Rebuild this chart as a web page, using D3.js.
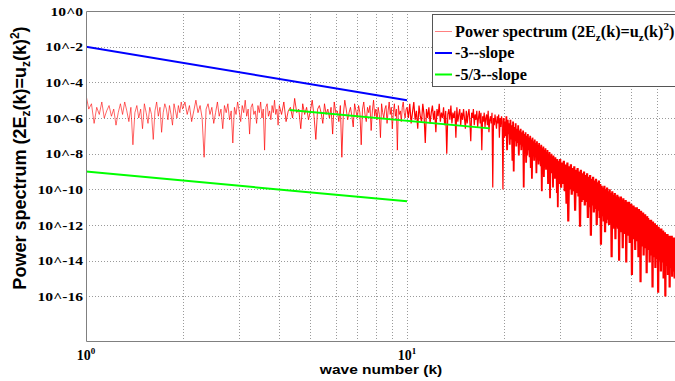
<!DOCTYPE html>
<html>
<head>
<meta charset="utf-8">
<script src="https://cdn.jsdelivr.net/npm/d3@7"></script>
<style>
  body { margin: 0; background: #fff; }
  svg { display: block; }
</style>
</head>
<body>
<div id="chart"></div>
<script>
// spectrum: wave number ranges, values = 10*log10(power)
const specRanges = [[1, 2], [2, 4], [4, 10], [10, 20], [20, 30], [30, 70]];

const specA = [-47,-55,-52,-63,-54,-58,-51,-60,-56,-53,-59,-55,-64,-57,-52,-58,-51,-56,-62,-54,
  -75,-57,-53,-60,-55,-66,-52,-57,-63,-54,-58,-72,-56,-51,-59,-54,-68,-57,-52,-55,
  -61,-53,-58,-64,-52,-56,-60,-53,-57,-51];

const specB = [-55,-51,-58,-53,-62,-56,-50,-57,-53,-60,-82,-55,-52,-58,-54,-63,-57,-51,-59,-55,
  -66,-53,-57,-52,-61,-56,-74,-54,-58,-51,-56,-62,-53,-57,-50,-59,-55,-69,-54,-52,
  -58,-56,-63,-53,-57,-51,-60,-55,-78,-54,-52,-59,-56,-61,-53,-57,-50,-58,-55,-64];

const specC = [-53,-58,-51,-62,-56,-54,-60,-49,-57,-55,-66,-52,-58,-54,-61,-56,-50,-59,-72,-55,
  -53,-57,-63,-52,-58,-55,-60,-54,-69,-51,-57,-56,-62,-53,-82,-58,-50,-55,-61,-57,
  -54,-59,-65,-52,-56,-60,-53,-57,-75,-55,-51,-58,-62,-54,-57,-53,-67,-56,-50,-59,
  -55,-61,-54,-58,-71,-52,-57,-60,-55,-53,-63,-56,-51,-58,-54,-66,-57,-52,-59,-55,
  -78,-53,-58,-56,-62,-54,-51,-57,-60,-55];

const specD = [-54,-60,-52,-63,-57,-51,-61,-56,-66,-53,-59,-62,-52,-58,-74,-55,-60,-54,-63,-57,
  -53,-61,-56,-68,-55,-59,-52,-62,-57,-60,-54,-64,-56,-80,-58,-55,-61,-53,-63,-57,
  -60,-56,-71,-54,-62,-58,-55,-64,-57,-61,-55,-60,-66,-56,-63,-58,-55,-62,-73,-57,
  -60,-55,-64,-58,-61,-56,-65,-60,-56,-63,-57,-78,-59,-62,-57,-65,-60,-58,-64,-56,
  -68,-61,-59,-63,-57,-99,-60,-64,-58,-62,-66,-59,-63,-58,-71,-60,-65,-59,-62,-100];

const specE1 = [-60,-71,-62,-70,-59,-78,-61,-69,-63,-75,-61,-72,-64,-84,-62,-90,-65,-73,-63,-76,
  -66,-74,-64,-81,-67,-75,-66,-78,-68,-76,-67,-99,-69,-79,-68,-85,-70,-81,-69,-78,
  -71,-82,-70,-88,-72,-94,-71,-81,-73,-84,-72,-82,-74,-91,-73,-83,-75,-86,-74,-84,
  -76,-87,-75,-101,-77,-86,-76,-93,-78,-87,-77,-89,-79,-88,-78,-97,-80,-89,-79,-105,
  -81,-91,-80,-90,-82,-99,-81,-91,-83,-94,-82,-92,-84,-102,-83,-110,-85,-96,-84,-97];

const specE2 = [-83,-99,-85,-97,-84,-101,-86,-108,-85,-118,-87,-100,-86,-103,-88,-101,-87,-112,-89,-102,
  -88,-104,-90,-121,-89,-107,-91,-106,-90,-109,-92,-107,-91,-116,-93,-110,-92,-126,-94,-109,
  -93,-113,-95,-111,-94,-120,-96,-112,-95,-116,-97,-131,-98,-115,-99,-118,-98,-124,-100,-119,
  -99,-117,-101,-120,-100,-119,-102,-138,-101,-119,-103,-122,-102,-128,-104,-121,-103,-122,-104,-140,
  -105,-122,-104,-124,-106,-133,-105,-124,-107,-125,-106,-141,-107,-126,-108,-124,-107,-130,-109,-126,
  -108,-148,-110,-128,-109,-127,-110,-134,-111,-129,-110,-128,-112,-138,-111,-130,-113,-152,-112,-129,
  -114,-132,-113,-137,-115,-133,-114,-131,-116,-147,-115,-133,-116,-134,-117,-141,-118,-135,-117,-137,
  -119,-155,-118,-136,-120,-138,-119,-144,-121,-137,-120,-139,-122,-158,-121,-140,-122,-139,-123,-146,
  -122,-141,-124,-140,-123,-150,-125,-142,-124,-160,-125,-143,-126,-142,-125,-148,-126,-143,-127,-155,
  -126,-144,-127,-143,-126,-149,-127,-146,-128,-145,-127,-150,-128,-146,-129,-155,-128,-145,-129,-147];

const specTenths = [specA, specB, specC, specD, specE1, specE2];

// reference slopes (log10 of power at both ends)
const slopeK = [[1, 10], [4.3, 18.1], [1, 10]];
const slopeLogP = [[-2, -5], [-5.55, -6.58], [-9, -10.67]];
const slopeColors = ["#0000ff", "#00ff00", "#00ff00"];

const legendNames = ["Power spectrum (2E", "-3--slope", "-5/3--slope"];
const legendColors = ["#ff0000", "#0000ff", "#00ff00"];

const xGridVals = [2, 3, 4, 5, 6, 7, 8, 9, 10, 20, 30, 40, 50, 60];
const xTickExps = [0, 1];
const yTickExps = [0, -2, -4, -6, -8, -10, -12, -14, -16];

const W = 675, H = 381;
const plotL = 86, plotT = 11, plotB = 341, decade = 321;
// thin line looks pink where sparse, solid where the samples pile up
const segWidths = [0.6, 0.65, 0.8, 1.2, 1.8, 2.2];

const svg = d3.select("#chart").append("svg")
    .attr("width", W).attr("height", H);

const x = d3.scaleLog().domain([1, 70]).range([plotL, plotL + decade * Math.log10(70)]);
const y = d3.scaleLog().domain([1, Math.pow(10, -18.5)]).range([plotT, plotB]);

svg.append("clipPath").attr("id", "plotclip")
  .append("rect").attr("x", plotL).attr("y", plotT).attr("width", W - plotL).attr("height", plotB - plotT);

// grid
const grid = svg.append("g").attr("stroke", "#9a9a9a").attr("stroke-dasharray", "1,2").attr("stroke-width", 1);
xGridVals.forEach(v => {
    const px = Math.round(x(v)) + 0.5;
    grid.append("line").attr("x1", px).attr("x2", px).attr("y1", plotT).attr("y2", plotB);
});
yTickExps.filter(e => e < 0).forEach(e => {
    const py = Math.round(y(Math.pow(10, e))) + 0.5;
    grid.append("line").attr("x1", plotL).attr("x2", W).attr("y1", py).attr("y2", py);
});

// spectrum, one path per segment, each joined to the next one's first sample
const segPts = specTenths.map((vals, s) => {
    const [lo, hi] = specRanges[s];
    return vals.map((v, i) => ({k: lo + (hi - lo) * i / vals.length, p: Math.pow(10, v / 10)}));
});

const line = d3.line().x(d => x(d.k)).y(d => y(d.p));
const plot = svg.append("g").attr("clip-path", "url(#plotclip)");

segPts.forEach((pts, s) => {
    const data = s < segPts.length - 1 ? pts.concat([segPts[s + 1][0]]) : pts;
    plot.append("path")
        .datum(data)
        .attr("d", line)
        .attr("fill", "none")
        .attr("stroke", "#ff0000")
        .attr("stroke-width", segWidths[s])
        .attr("stroke-linejoin", "bevel");
});

slopeK.forEach((ks, i) => {
    plot.append("path")
        .datum(ks.map((k, j) => ({k: k, p: Math.pow(10, slopeLogP[i][j])})))
        .attr("d", line)
        .attr("fill", "none")
        .attr("stroke", slopeColors[i])
        .attr("stroke-width", 2);
});

// box
svg.append("path")
    .attr("d", `M${W},${plotT + 0.5}H${plotL + 0.5}V${plotB + 0.5}H${W}`)
    .attr("fill", "none").attr("stroke", "#808080").attr("stroke-width", 1);

// y tick labels (the source font is drawn wide)
yTickExps.forEach(e => {
    svg.append("text")
        .attr("transform", `translate(${plotL - 3},${y(Math.pow(10, e))}) scale(1.2,1)`)
        .attr("dy", "0.35em")
        .attr("text-anchor", "end")
        .attr("font-family", "Liberation Serif")
        .attr("font-weight", "bold")
        .attr("font-size", 13)
        .text("10^" + e);
});

// x tick labels
xTickExps.forEach(e => {
    const t = svg.append("text")
        .attr("x", x(Math.pow(10, e)))
        .attr("y", 360)
        .attr("text-anchor", "middle")
        .attr("font-family", "Liberation Serif")
        .attr("font-weight", "bold")
        .attr("font-size", 14);
    t.append("tspan").text("10");
    t.append("tspan").attr("dy", -6).attr("font-size", 9).text(e);
});

// axis labels
svg.append("text")
    .attr("transform", "translate(381,374) scale(1.15,1)")
    .attr("text-anchor", "middle")
    .attr("font-family", "Liberation Sans")
    .attr("font-weight", "bold")
    .attr("font-size", 13.5)
    .text("wave number (k)");

const yl = svg.append("text")
    .attr("transform", "translate(26,158) rotate(-90)")
    .attr("text-anchor", "middle")
    .attr("font-family", "Liberation Sans")
    .attr("font-weight", "bold")
    .attr("font-size", 18);
yl.append("tspan").text("Power spectrum (2E");
yl.append("tspan").attr("dy", 4).attr("font-size", 12).text("z");
yl.append("tspan").attr("dy", -4).text("(k)=u");
yl.append("tspan").attr("dy", 4).attr("font-size", 12).text("z");
yl.append("tspan").attr("dy", -4).text("(k)");
yl.append("tspan").attr("dy", -7).attr("font-size", 12).text("2");
yl.append("tspan").attr("dy", 7).text(")");

// legend
const lg = svg.append("g");
lg.append("rect")
    .attr("x", 432.5).attr("y", 14.5).attr("width", 260).attr("height", 72)
    .attr("fill", "#fff").attr("stroke", "#555");

legendNames.forEach((name, i) => {
    const ly = 31.5 + i * 21.5;
    lg.append("line")
        .attr("x1", 435).attr("x2", 452).attr("y1", ly).attr("y2", ly)
        .attr("stroke", legendColors[i]).attr("stroke-width", i === 0 ? 0.5 : 2);
    const t = lg.append("text")
        .attr("x", 455).attr("y", ly + 5)
        .attr("font-family", "Liberation Serif")
        .attr("font-weight", "bold")
        .attr("font-size", 16.2);
    t.append("tspan").text(name);
    if (i === 0) {
        t.append("tspan").attr("dy", 4).attr("font-size", 11).text("z");
        t.append("tspan").attr("dy", -4).text("(k)=u");
        t.append("tspan").attr("dy", 4).attr("font-size", 11).text("z");
        t.append("tspan").attr("dy", -4).text("(k)");
        t.append("tspan").attr("dy", -7).attr("font-size", 11).text("2");
        t.append("tspan").attr("dy", 7).text(")");
    }
});
</script>
</body>
</html>
